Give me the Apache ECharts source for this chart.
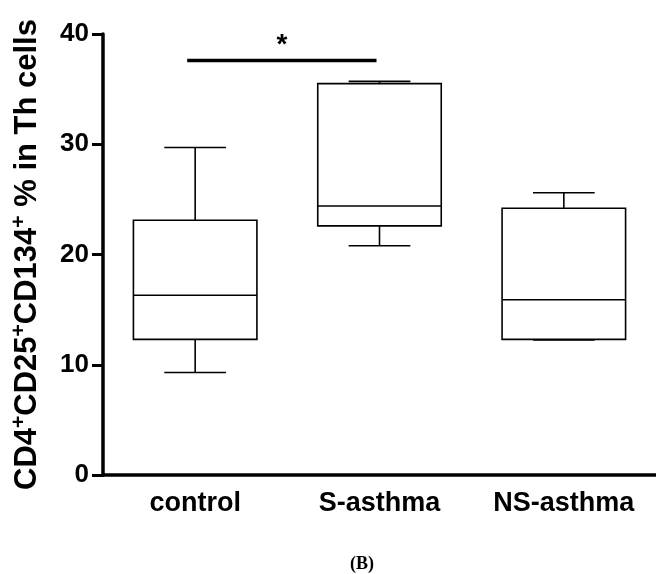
<!DOCTYPE html>
<html>
<head>
<meta charset="utf-8">
<script src="https://cdn.jsdelivr.net/npm/echarts@6/dist/echarts.min.js"></script>
<style>
html,body{margin:0;padding:0;background:#fff;}
#main{width:656px;height:574px;}
</style>
</head>
<body>
<div id="main"></div>
<script>
// ---- data ----
var categories = ['control', 'S-asthma', 'NS-asthma'];
var mins    = [9.3, 20.8, 12.25];
var q1s     = [12.3, 22.6, 12.3];
var medians = [16.3, 24.4, 15.9];
var q3s     = [23.1, 35.5, 24.2];
var maxs    = [29.7, 35.7, 25.6];
var yTicks  = [0, 10, 20, 30, 40];
var sigPair = [0, 1];      // compared groups
var sigLevel = 37.6;       // y value of significance bar
var sigLabel = '*';

var boxData = categories.map(function (c, i) {
  return [i, mins[i], q1s[i], medians[i], q3s[i], maxs[i]];
});

var chart = echarts.init(document.getElementById('main'), null, {renderer: 'canvas'});
var font = 'Liberation Sans, Arial, sans-serif';

function renderBox(params, api) {
  var idx = api.value(0);
  var band = api.size([1, 0])[0];
  var bw = band * 0.67;
  var cw = bw / 2;
  var pMin = api.coord([idx, api.value(1)]);
  var pQ1 = api.coord([idx, api.value(2)]);
  var pMed = api.coord([idx, api.value(3)]);
  var pQ3 = api.coord([idx, api.value(4)]);
  var pMax = api.coord([idx, api.value(5)]);
  var x = pMed[0];
  var st = {stroke: '#000', lineWidth: 1.6, fill: null};
  return {
    type: 'group',
    children: [
      {type: 'rect', shape: {x: x - bw / 2, y: pQ3[1], width: bw, height: pQ1[1] - pQ3[1]}, style: {stroke: '#000', lineWidth: 1.6, fill: '#fff'}},
      {type: 'line', shape: {x1: x - bw / 2, y1: pMed[1], x2: x + bw / 2, y2: pMed[1]}, style: st},
      {type: 'line', shape: {x1: x, y1: pQ3[1], x2: x, y2: pMax[1]}, style: st},
      {type: 'line', shape: {x1: x, y1: pQ1[1], x2: x, y2: pMin[1]}, style: st},
      {type: 'line', shape: {x1: x - cw / 2, y1: pMax[1], x2: x + cw / 2, y2: pMax[1]}, style: st},
      {type: 'line', shape: {x1: x - cw / 2, y1: pMin[1], x2: x + cw / 2, y2: pMin[1]}, style: st}
    ]
  };
}

function renderSig(params, api) {
  var a = api.coord([api.value(0), api.value(2)]);
  var b = api.coord([api.value(1), api.value(2)]);
  var x0 = a[0] - 8, x1 = b[0] - 3;
  return {
    type: 'group',
    children: [
      {type: 'line', shape: {x1: x0, y1: a[1], x2: x1, y2: a[1]}, style: {stroke: '#000', lineWidth: 3.5}},
      {type: 'text', style: {text: sigLabel, x: (x0 + x1) / 2, y: a[1] - 1, textAlign: 'center', textVerticalAlign: 'bottom',
        font: 'bold 28px ' + font, fill: '#000'}}
    ]
  };
}

var option = {
  animation: false,
  backgroundColor: '#fff',
  grid: {left: 103, top: 34, width: 560, height: 441},
  xAxis: {
    type: 'category',
    data: categories,
    boundaryGap: true,
    axisLine: {lineStyle: {color: '#000', width: 3.5}},
    axisTick: {alignWithLabel: true, length: 11, lineStyle: {color: '#000', width: 3}},
    axisLabel: {color: '#000', fontWeight: 'bold', fontSize: 27, fontFamily: font, margin: 15}
  },
  yAxis: {
    type: 'value',
    min: yTicks[0],
    max: yTicks[yTicks.length - 1],
    interval: yTicks[1] - yTicks[0],
    splitLine: {show: false},
    axisLine: {show: true, lineStyle: {color: '#000', width: 3.5}},
    axisTick: {show: true, length: 11, lineStyle: {color: '#000', width: 3}},
    axisLabel: {color: '#000', fontWeight: 'bold', fontSize: 26, fontFamily: font, margin: 14},
    name: '{a|CD4}{s|+}{a|CD25}{s|+}{a|CD134}{s|+}{a| % in Th cells}',
    nameLocation: 'middle',
    nameGap: 58,
    nameTextStyle: {
      rich: {
        a: {color: '#000', fontWeight: 'bold', fontSize: 31, fontFamily: font, lineHeight: 36},
        s: {color: '#000', fontWeight: 'bold', fontSize: 21, fontFamily: font, verticalAlign: 'top', lineHeight: 36}
      }
    }
  },
  series: [
    {type: 'custom', renderItem: renderBox, data: boxData, encode: {x: 0, y: [1, 2, 3, 4, 5]}, silent: true},
    {type: 'custom', renderItem: renderSig, data: [[sigPair[0], sigPair[1], sigLevel]], encode: {x: [0, 1], y: 2}, silent: true}
  ],
  graphic: [
    {type: 'text', left: 350, top: 555, style: {text: '(B)', font: 'bold 18px Liberation Serif, Times New Roman, serif', fill: '#000'}}
  ]
};
chart.setOption(option);
</script>
</body>
</html>
